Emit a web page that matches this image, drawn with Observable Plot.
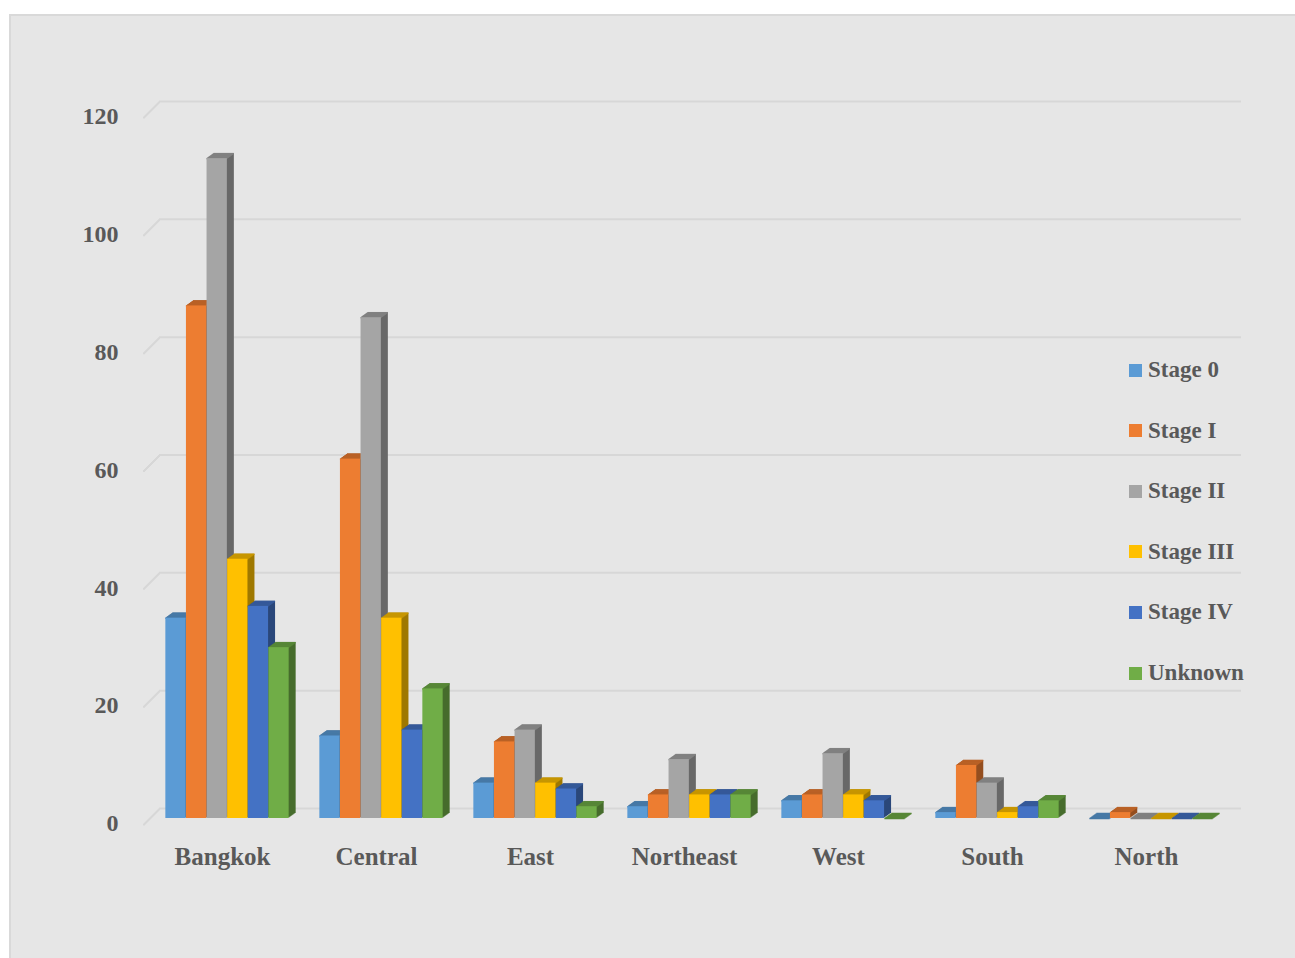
<!DOCTYPE html>
<html>
<head>
<meta charset="utf-8">
<script src="https://cdn.jsdelivr.net/npm/d3@7"></script>
<script src="https://cdn.jsdelivr.net/npm/@observablehq/plot@0.6"></script>
<style>
  html, body { margin: 0; padding: 0; background: #ffffff; }
  #wrap { position: relative; width: 1295px; height: 958px; overflow: hidden; }
  #panel { position: absolute; left: 9px; top: 14px; width: 1300px; height: 960px;
           background: #e6e6e6; border: 2px solid #d9d9d9; box-sizing: border-box; }
  #chart { position: absolute; left: 0; top: 0; }
  #legend { position: absolute; left: 1129px; top: 0; font-family: "Liberation Serif", serif;
            font-weight: bold; font-size: 23px; color: #595959; }
  .item { position: absolute; left: 0; display: flex; align-items: center; white-space: nowrap; transform: translateY(-50%); }
  .sw { width: 13px; height: 13px; margin-right: 6px; flex: none; }
</style>
</head>
<body>
<div id="wrap">
  <div id="panel"></div>
  <div id="chart"></div>
  <div id="legend"></div>
</div>
<script>
const regions = ["Bangkok", "Central", "East", "Northeast", "West", "South", "North"];
const stages = ["Stage 0", "Stage I", "Stage II", "Stage III", "Stage IV", "Unknown"];
const stage0   = [34, 14, 6, 2, 3, 1, 0];
const stageI   = [87, 61, 13, 4, 4, 9, 1];
const stageII  = [112, 85, 15, 10, 11, 6, 0];
const stageIII = [44, 34, 6, 4, 4, 1, 0];
const stageIV  = [36, 15, 5, 4, 3, 2, 0];
const unknown  = [29, 22, 2, 4, 0, 3, 0];
const yTicks = [0, 20, 40, 60, 80, 100, 120];
const stageColors = ["#5b9bd5", "#ed7d31", "#a5a5a5", "#ffc000", "#4472c4", "#70ad47"];

const series = [stage0, stageI, stageII, stageIII, stageIV, unknown];
const data = series.map((vals, j) => regions.map((r, i) => ({region: r, stage: stages[j], value: vals[i]})));

const W = 1295, H = 958;
const mL = 144, mR = 71, mT = 111, mB = 140;
const step = (W - mL - mR) / regions.length;
const barW = 20.6;
const inset = (step - barW) / 2;
const depthX = 7, depthY = 5, nDepth = 7;
const textColor = "#595959";
const font = "Liberation Serif, serif";

const marks = [];
// back-wall gridlines
marks.push(Plot.ruleY(yTicks, {y: d => d, stroke: "#d7d7d7", strokeWidth: 2, dx: 17, dy: -10}));
// left diagonal of gridlines (floor edge to back wall)
for (let k = 0; k <= 16; k++) {
  marks.push(Plot.ruleY(yTicks, {y: d => d, stroke: "#d7d7d7", strokeWidth: 2,
    insetRight: (W - mL - mR) - 2, dx: k - 1, dy: 6 - k}));
}
// bars
data.forEach((rows, j) => {
  const base = d3.rgb(stageColors[j]);
  const side = base.darker(1.3).formatHex();
  const top = base.darker(0.7).formatHex();
  const dx0 = 5 + (j - 2.5) * barW;
  for (let k = nDepth; k >= 1; k--) {
    marks.push(Plot.barY(rows, {x: "region", y1: 0, y2: "value", fill: side,
      insetLeft: inset, insetRight: inset, dx: dx0 + k, dy: -k * depthY / depthX}));
  }
  for (let k = 0; k <= nDepth; k++) {
    marks.push(Plot.tickY(rows, {x: "region", y: "value", stroke: top, strokeWidth: 1.5,
      insetLeft: inset, insetRight: inset, dx: dx0 + k, dy: -k * depthY / depthX}));
  }
  marks.push(Plot.barY(rows, {x: "region", y1: 0, y2: "value", fill: stageColors[j],
    insetLeft: inset, insetRight: inset, dx: dx0}));
});
// y tick labels
marks.push(Plot.text(yTicks, {y: d => d, text: d => String(d), frameAnchor: "left", textAnchor: "end",
  lineAnchor: "middle", dx: -26, dy: 5, fill: textColor, fontSize: 24, fontWeight: "bold", fontFamily: font}));
// x category labels
marks.push(Plot.text(regions, {x: d => d, text: d => d, frameAnchor: "bottom", lineAnchor: "middle", dy: 38,
  fill: textColor, fontSize: 25, fontWeight: "bold", fontFamily: font}));

const chart = Plot.plot({
  width: W, height: H,
  marginLeft: mL, marginRight: mR, marginTop: mT, marginBottom: mB,
  style: "background: transparent; overflow: visible;",
  x: {domain: regions, padding: 0, axis: null},
  y: {domain: [0, 120], axis: null},
  marks
});
document.getElementById("chart").appendChild(chart);

const legend = document.getElementById("legend");
stages.forEach((s, i) => {
  const item = document.createElement("div");
  item.className = "item";
  item.style.top = (370 + i * 60.6) + "px";
  const sw = document.createElement("span");
  sw.className = "sw";
  sw.style.background = stageColors[i];
  const label = document.createElement("span");
  label.textContent = s;
  item.appendChild(sw);
  item.appendChild(label);
  legend.appendChild(item);
});
</script>
</body>
</html>
